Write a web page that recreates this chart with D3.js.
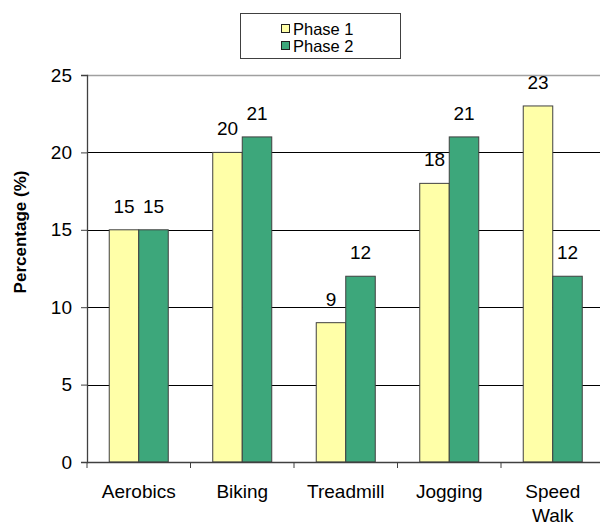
<!DOCTYPE html>
<html>
<head>
<meta charset="utf-8">
<script src="https://cdn.jsdelivr.net/npm/d3@7"></script>
<style>
  html, body { margin: 0; padding: 0; background: #fff; }
  svg { display: block; font-family: "Liberation Sans", Arial, sans-serif; }
</style>
</head>
<body>
<svg id="chart" width="600" height="527"></svg>
<script>
// Activity categories and the share of participants per phase
const categories = ["Aerobics", "Biking", "Treadmill", "Jogging", "Speed Walk"];
const seriesNames = ["Phase 1", "Phase 2"];
const phase1 = [15, 20, 9, 18, 23];
const phase2 = [15, 21, 12, 21, 12];
const yTicks = [0, 5, 10, 15, 20, 25];
const yTitle = "Percentage (%)";

const colors = { "Phase 1": "#FFFFA8", "Phase 2": "#3DA77B" };

const svg = d3.select("#chart");
const plot = { left: 87, right: 604.5, top: 75, bottom: 462 };

const rows = categories.map((c, i) => ({
  cat: c,
  vals: [
    { key: seriesNames[0], v: phase1[i] },
    { key: seriesNames[1], v: phase2[i] }
  ]
}));

const x0 = d3.scaleBand().domain(categories).range([plot.left, plot.right]).padding(0);
const x1 = d3.scaleBand().domain(seriesNames).range([0, x0.bandwidth()])
  .paddingInner(0).paddingOuter(0.754);
const y = d3.scaleLinear().domain([0, 25]).range([plot.bottom, plot.top]);

// horizontal gridlines
svg.append("g")
  .selectAll("line")
  .data(yTicks.filter(t => t > 0 && t < 25))
  .join("line")
  .attr("x1", plot.left).attr("x2", plot.right)
  .attr("y1", d => Math.round(y(d)) + 0.5).attr("y2", d => Math.round(y(d)) + 0.5)
  .attr("stroke", "#000").attr("stroke-width", 1);

// top border of the plot area
svg.append("line")
  .attr("x1", plot.left).attr("x2", plot.right)
  .attr("y1", Math.round(y(25)) + 0.5).attr("y2", Math.round(y(25)) + 0.5)
  .attr("stroke", "#a0a0a0").attr("stroke-width", 1.5);

// bars
const groups = svg.append("g").selectAll("g")
  .data(rows)
  .join("g")
  .attr("transform", d => `translate(${x0(d.cat)},0)`);

groups.selectAll("rect")
  .data(d => d.vals)
  .join("rect")
  .attr("x", d => x1(d.key))
  .attr("y", d => y(d.v))
  .attr("width", x1.bandwidth())
  .attr("height", d => y(0) - y(d.v))
  .attr("fill", d => colors[d.key])
  .attr("stroke", "#404040")
  .attr("stroke-width", 1);

// value labels above bars
groups.selectAll("text")
  .data(d => d.vals)
  .join("text")
  .attr("x", d => x1(d.key) + x1.bandwidth() / 2)
  .attr("y", d => y(d.v) - 17)
  .attr("text-anchor", "middle")
  .attr("font-size", 19)
  .attr("fill", "#000")
  .text(d => d.v);

// y axis
const yAxis = svg.append("g")
  .attr("transform", `translate(${plot.left},0)`)
  .call(d3.axisLeft(y).tickValues(yTicks).tickSize(6).tickPadding(9));
yAxis.select(".domain").attr("stroke", "#404040").attr("stroke-width", 1.3);
yAxis.selectAll(".tick line").attr("stroke", "#404040");
yAxis.selectAll(".tick text")
  .attr("font-size", 19).attr("fill", "#000")
  .attr("font-family", "Liberation Sans, Arial, sans-serif");

// x axis: ticks at category boundaries
const xAxisG = svg.append("g").attr("transform", `translate(0,${plot.bottom})`);
xAxisG.append("line")
  .attr("x1", plot.left).attr("x2", plot.right)
  .attr("y1", 0.5).attr("y2", 0.5)
  .attr("stroke", "#404040").attr("stroke-width", 1.3);
xAxisG.selectAll("line.tk")
  .data(categories)
  .join("line")
  .attr("class", "tk")
  .attr("x1", d => x0(d)).attr("x2", d => x0(d))
  .attr("y1", 0).attr("y2", 6)
  .attr("stroke", "#404040");

// category labels, wrapped at spaces
xAxisG.selectAll("text")
  .data(categories)
  .join("text")
  .attr("x", d => x0(d) + x0.bandwidth() / 2)
  .attr("y", 36)
  .attr("text-anchor", "middle")
  .attr("font-size", 19)
  .attr("fill", "#000")
  .each(function(d) {
    const words = d.split(" ");
    const t = d3.select(this);
    words.forEach((w, i) => {
      t.append("tspan")
        .attr("x", x0(d) + x0.bandwidth() / 2)
        .attr("dy", i === 0 ? 0 : 24)
        .text(w);
    });
  });

// y axis title
svg.append("text")
  .attr("transform", "translate(26,232) rotate(-90)")
  .attr("text-anchor", "middle")
  .attr("font-size", 17)
  .attr("font-weight", "bold")
  .attr("fill", "#000")
  .text(yTitle);

// legend
const legend = svg.append("g");
legend.append("rect")
  .attr("x", 240.5).attr("y", 13.5)
  .attr("width", 160).attr("height", 45)
  .attr("fill", "#fff").attr("stroke", "#404040").attr("stroke-width", 1);

const items = legend.selectAll("g.item")
  .data(seriesNames)
  .join("g")
  .attr("class", "item")
  .attr("transform", (d, i) => `translate(281,${24 + i * 17})`);

items.append("rect")
  .attr("x", 0.5).attr("y", 0.5)
  .attr("width", 8).attr("height", 8)
  .attr("fill", d => colors[d])
  .attr("stroke", "#202020").attr("stroke-width", 1);

items.append("text")
  .attr("x", 12).attr("y", 11)
  .attr("font-size", 16.5)
  .attr("fill", "#000")
  .text(d => d);
</script>
</body>
</html>
